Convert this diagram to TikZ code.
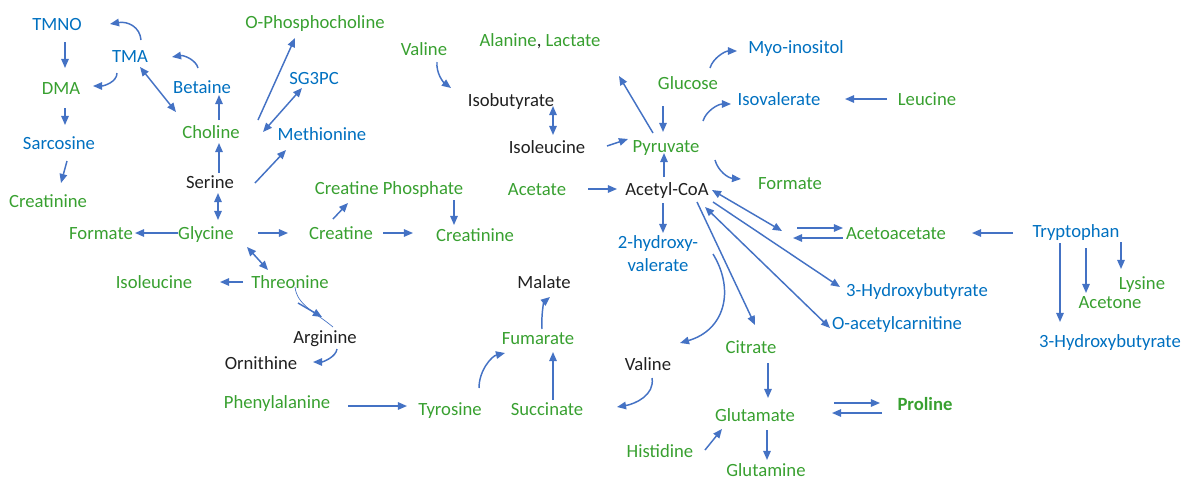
\documentclass[tikz,border=0pt]{standalone}
\usepackage{fontspec}
\setmainfont{Carlito}
\usetikzlibrary{arrows.meta}
\definecolor{tgreen}{RGB}{56,160,48}
\definecolor{tblue}{RGB}{0,112,192}
\definecolor{arrcol}{RGB}{68,114,196}
\definecolor{tblack}{RGB}{32,32,32}
\begin{document}
\begin{tikzpicture}[x=0.75pt,y=-0.75pt,
  lbl/.style={inner sep=0pt, text height=9pt, text depth=0pt, font=\fontsize{14pt}{17.25pt}\selectfont},
  gr/.style={lbl, text=tgreen},
  bl/.style={lbl, text=tblue},
  bk/.style={lbl, text=tblack},
  tip/.tip={Triangle[length=6.8pt,width=5.6pt]},
  conn/.style={draw=arrcol, line width=1.1pt, -tip},
  dconn/.style={draw=arrcol, line width=1.1pt, tip-tip},
  thinline/.style={draw=arrcol, line width=0.5pt}
]
\useasboundingbox (0,0) rectangle (1182,482);
% nodes
\node[bl] (tmno) at (57,24) {TMNO};
\node[bl] (tma) at (130,56) {TMA};
\node[gr] (dma) at (61,88) {DMA};
\node[bl] (betaine) at (202,87) {Betaine};
\node[gr] (ophos) at (315,22) {O-Phosphocholine};
\node[bl] (sg3pc) at (314,78) {SG3PC};
\node[gr] (choline) at (211,132) {Choline};
\node[bl] (methionine) at (322,134) {Methionine};
\node[bl] (sarcosine) at (59,143) {Sarcosine};
\node[bk] (serine) at (210,182) {Serine};
\node[gr] (creatininel) at (48,201) {Creatinine};
\node[gr] (formatel) at (101,233) {Formate};
\node[gr] (glycine) at (206,233) {Glycine};
\node[gr] (creatine) at (341,233) {Creatine};
\node[gr] (crphos) at (389,188) {Creatine Phosphate};
\node[gr] (creatininem) at (475,235) {Creatinine};
\node[gr] (isoleucinel) at (154,282) {Isoleucine};
\node[gr] (threonine) at (290,282) {Threonine};
\node[bk] (arginine) at (325,337) {Arginine};
\node[bk] (ornithine) at (261,363) {Ornithine};
\node[gr] (phenyl) at (277,402) {Phenylalanine};
\node[gr] (tyrosine) at (450,409) {Tyrosine};
\node[gr] (succinate) at (547,409) {Succinate};
\node[gr] (fumarate) at (538,338) {Fumarate};
\node[bk] (malate) at (544,282) {Malate};
\node[gr] (valinet) at (424,49) {Valine};
\node[gr] (alanine) at (540,40) {Alanine\textcolor{tblack}{,} Lactate};
\node[bk] (isobutyrate) at (511,100) {Isobutyrate};
\node[bk] (isoleucinem) at (547,147) {Isoleucine};
\node[gr] (pyruvate) at (666,146) {Pyruvate};
\node[gr] (glucose) at (688,83) {Glucose};
\node[bl] (myo) at (796,47) {Myo-inositol};
\node[bl] (isovalerate) at (779,99) {Isovalerate};
\node[gr] (leucine) at (927,99) {Leucine};
\node[gr] (formater) at (790,183) {Formate};
\node[gr] (acetate) at (537,189) {Acetate};
\node[bk] (acetylcoa) at (667,189) {Acetyl-CoA};
\node[inner sep=0pt, align=center, text=tblue, font=\fontsize{14pt}{17.25pt}\selectfont] (hydroxyval) at (658,254) {2-hydroxy-\\valerate};
\node[bk] (valineb) at (648,364) {Valine};
\node[gr] (citrate) at (751,347) {Citrate};
\node[gr] (glutamate) at (755,415) {Glutamate};
\node[gr] (histidine) at (660,451) {Histidine};
\node[gr] (glutamine) at (766,470) {Glutamine};
\node[gr, font=\fontsize{14pt}{17.25pt}\selectfont\bfseries] (proline) at (925,404) {Proline};
\node[gr] (acetoacetate) at (896,233) {Acetoacetate};
\node[bl] (hbr) at (917,290) {3-Hydroxybutyrate};
\node[bl] (oacetyl) at (897,323) {O-acetylcarnitine};
\node[bl] (tryptophan) at (1076,231) {Tryptophan};
\node[gr] (lysine) at (1142,283) {Lysine};
\node[gr] (acetone) at (1110,302) {Acetone};
\node[bl] (hbfar) at (1110,341) {3-Hydroxybutyrate};
% connectors
\draw[conn] ([shift={(11,-16)}]tma.center) .. controls ([shift={(10,-29)}]tma.center) and ([shift={(71,-3)}]tmno.center) .. ([shift={(53,0)}]tmno.center);
\draw[conn] ([shift={(8,18)}]tmno.center) -- ([shift={(4,-20)}]dma.center);
\draw[conn] ([shift={(-13,17)}]tma.center) .. controls ([shift={(-13,26)}]tma.center) and ([shift={(43,-2)}]dma.center) .. ([shift={(32,-2)}]dma.center);
\draw[conn] ([shift={(-4,-19)}]betaine.center) .. controls ([shift={(-6,-27)}]betaine.center) and ([shift={(54,-1)}]tma.center) .. ([shift={(42,1)}]tma.center);
\draw[dconn] ([shift={(10,11)}]tma.center) -- ([shift={(-35,-20)}]choline.center);
\draw[conn] ([shift={(8,-12)}]choline.center) -- ([shift={(17,8)}]betaine.center);
\draw[conn] ([shift={(47,-12)}]choline.center) -- ([shift={(-20,16)}]ophos.center);
\draw[dconn] ([shift={(-12,10)}]sg3pc.center) -- ([shift={(52,0)}]choline.center);
\draw[conn] ([shift={(45,1)}]serine.center) -- ([shift={(-36,16)}]methionine.center);
\draw[conn] ([shift={(9,-9)}]serine.center) -- ([shift={(8,11)}]choline.center);
\draw[dconn] ([shift={(8,11)}]serine.center) -- ([shift={(12,-13)}]glycine.center);
\draw[conn] ([shift={(8,18)}]sarcosine.center) -- ([shift={(13,-18)}]creatininel.center);
\draw[conn] ([shift={(4,20)}]dma.center) -- ([shift={(6,-18)}]sarcosine.center);
\draw[conn] ([shift={(-28,0)}]glycine.center) -- ([shift={(34,0)}]formatel.center);
\draw[conn] ([shift={(52,0)}]glycine.center) -- ([shift={(-53,0)}]creatine.center);
\draw[conn] ([shift={(-8,-14)}]creatine.center) -- ([shift={(-41,15)}]crphos.center);
\draw[conn] ([shift={(42,0)}]creatine.center) -- ([shift={(-62,-2)}]creatininem.center);
\draw[conn] ([shift={(65,12)}]crphos.center) -- ([shift={(-21,-10)}]creatininem.center);
\draw[dconn] ([shift={(41,14)}]glycine.center) -- ([shift={(-22,-12)}]threonine.center);
\draw[conn] ([shift={(-47,0)}]threonine.center) -- ([shift={(66,0)}]isoleucinel.center);
\draw[thinline] ([shift={(5,5)}]threonine.center) .. controls ([shift={(7,23)}]threonine.center) and ([shift={(-10,-25)}]arginine.center) .. ([shift={(8,-10)}]arginine.center);
\draw[conn] ([shift={(8,21)}]threonine.center) -- ([shift={(-3,-20)}]arginine.center);
\draw[conn] ([shift={(12,12)}]arginine.center) .. controls ([shift={(11,20)}]arginine.center) and ([shift={(62,-1)}]ornithine.center) .. ([shift={(52,-1)}]ornithine.center);
\draw[conn] ([shift={(71,4)}]phenyl.center) -- ([shift={(-43,-3)}]tyrosine.center);
\draw[conn] ([shift={(29,-21)}]tyrosine.center) .. controls ([shift={(29,-39)}]tyrosine.center) and ([shift={(-46,18)}]fumarate.center) .. ([shift={(-33,15)}]fumarate.center);
\draw[conn] ([shift={(6,-9)}]succinate.center) -- ([shift={(15,14)}]fumarate.center);
\draw[conn] ([shift={(4,-9)}]fumarate.center) .. controls ([shift={(3,-23)}]fumarate.center) and ([shift={(0,20)}]malate.center) .. ([shift={(6,15)}]malate.center);
\draw[conn] ([shift={(4,14)}]valineb.center) .. controls ([shift={(7,31)}]valineb.center) and ([shift={(88,-5)}]succinate.center) .. ([shift={(70,-2)}]succinate.center);
\draw[conn] ([shift={(13,13)}]valinet.center) .. controls ([shift={(12,24)}]valinet.center) and ([shift={(-68,-18)}]isobutyrate.center) .. ([shift={(-60,-12)}]isobutyrate.center);
\draw[dconn] ([shift={(42,6)}]isobutyrate.center) -- ([shift={(6,-12)}]isoleucinem.center);
\draw[conn] ([shift={(60,-1)}]isoleucinem.center) -- ([shift={(-38,-7)}]pyruvate.center);
\draw[conn] ([shift={(-13,-13)}]pyruvate.center) -- ([shift={(79,36)}]alanine.center);
\draw[conn] ([shift={(-25,23)}]glucose.center) -- ([shift={(-3,-14)}]pyruvate.center);
\draw[conn] ([shift={(22,-15)}]glucose.center) .. controls ([shift={(25,-25)}]glucose.center) and ([shift={(-71,4)}]myo.center) .. ([shift={(-59,4)}]myo.center);
\draw[conn] ([shift={(37,-25)}]pyruvate.center) .. controls ([shift={(40,-35)}]pyruvate.center) and ([shift={(-61,5)}]isovalerate.center) .. ([shift={(-48,5)}]isovalerate.center);
\draw[conn] ([shift={(49,14)}]pyruvate.center) .. controls ([shift={(52,25)}]pyruvate.center) and ([shift={(-62,-5)}]formater.center) .. ([shift={(-49,-4)}]formater.center);
\draw[conn] ([shift={(-40,0)}]leucine.center) -- ([shift={(66,0)}]isovalerate.center);
\draw[conn] ([shift={(51,0)}]acetate.center) -- ([shift={(-50,0)}]acetylcoa.center);
\draw[conn] ([shift={(-3,-12)}]acetylcoa.center) -- ([shift={(-2,7)}]pyruvate.center);
\draw[conn] ([shift={(-4,14)}]acetylcoa.center) -- ([shift={(5,-21)}]hydroxyval.center);
\draw[dconn] ([shift={(45,1)}]acetylcoa.center) -- ([shift={(-114,-2)}]acetoacetate.center);
\draw[conn] ([shift={(46,13)}]acetylcoa.center) -- ([shift={(-77,-3)}]hbr.center);
\draw[dconn] ([shift={(38,18)}]acetylcoa.center) -- ([shift={(-67,5)}]oacetyl.center);
\draw[conn] ([shift={(30,13)}]acetylcoa.center) -- ([shift={(4,-22)}]citrate.center);
\draw[conn] ([shift={(55,0)}]hydroxyval.center) .. controls ([shift={(77,36)}]hydroxyval.center) and ([shift={(77,-34)}]valineb.center) .. ([shift={(32,-21)}]valineb.center);
\draw[conn] ([shift={(130,39)}]acetylcoa.center) -- ([shift={(-53,-5)}]acetoacetate.center);
\draw[conn] ([shift={(-53,5)}]acetoacetate.center) -- ([shift={(126,49)}]acetylcoa.center);
\draw[conn] ([shift={(-63,2)}]tryptophan.center) -- ([shift={(76,0)}]acetoacetate.center);
\draw[conn] ([shift={(-16,12)}]tryptophan.center) -- ([shift={(-50,-19)}]hbfar.center);
\draw[conn] ([shift={(10,17)}]tryptophan.center) -- ([shift={(-24,-9)}]acetone.center);
\draw[conn] ([shift={(45,11)}]tryptophan.center) -- ([shift={(-21,-14)}]lysine.center);
\draw[conn] ([shift={(17,16)}]citrate.center) -- ([shift={(13,-17)}]glutamate.center);
\draw[conn] ([shift={(12,15)}]glutamate.center) -- ([shift={(1,-10)}]glutamine.center);
\draw[conn] ([shift={(45,-1)}]histidine.center) -- ([shift={(-33,14)}]glutamate.center);
\draw[conn] ([shift={(79,-12)}]glutamate.center) -- ([shift={(-45,-1)}]proline.center);
\draw[conn] ([shift={(-43,9)}]proline.center) -- ([shift={(77,-2)}]glutamate.center);
\end{tikzpicture}
\end{document}
